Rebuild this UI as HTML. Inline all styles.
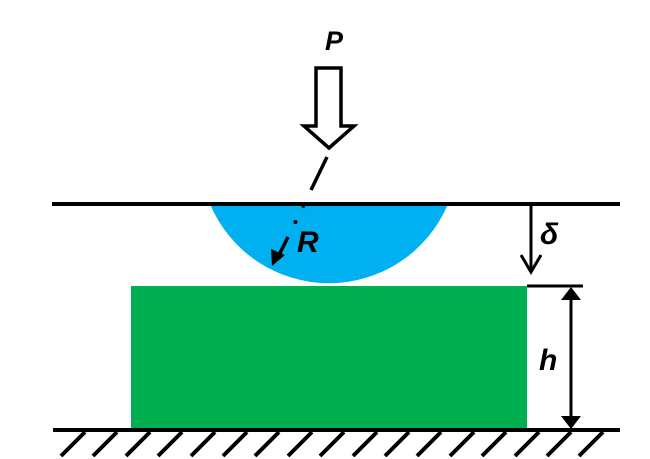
<!DOCTYPE html>
<html>
<head>
<meta charset="utf-8">
<style>
html,body{margin:0;padding:0;background:#fff;}
svg{display:block;}
text{font-family:"Liberation Sans",sans-serif;font-weight:bold;font-style:italic;fill:#000;}
</style>
</head>
<body>
<svg width="650" height="459" viewBox="0 0 650 459" xmlns="http://www.w3.org/2000/svg">
  <!-- blue spherical cap -->
  <path d="M210,204 A129,129 0 0 0 448,204 Z" fill="#00B0F0"/>
  <!-- green block -->
  <rect x="131" y="286" width="396" height="144" fill="#00B050"/>
  <!-- top line -->
  <line x1="52" y1="204" x2="620" y2="204" stroke="#000" stroke-width="4"/>
  <!-- ground line -->
  <line x1="53" y1="430" x2="620" y2="430" stroke="#000" stroke-width="4"/>
  <!-- hatches -->
  <g stroke="#000" stroke-width="4" stroke-linecap="butt">
    <line x1="61" y1="456" x2="85" y2="432"/>
    <line x1="93" y1="456" x2="117" y2="432"/>
    <line x1="126" y1="456" x2="150" y2="432"/>
    <line x1="158" y1="456" x2="182" y2="432"/>
    <line x1="191" y1="456" x2="215" y2="432"/>
    <line x1="223" y1="456" x2="247" y2="432"/>
    <line x1="255" y1="456" x2="279" y2="432"/>
    <line x1="288" y1="456" x2="312" y2="432"/>
    <line x1="320" y1="456" x2="344" y2="432"/>
    <line x1="353" y1="456" x2="377" y2="432"/>
    <line x1="385" y1="456" x2="409" y2="432"/>
    <line x1="417" y1="456" x2="441" y2="432"/>
    <line x1="450" y1="456" x2="474" y2="432"/>
    <line x1="482" y1="456" x2="506" y2="432"/>
    <line x1="515" y1="456" x2="539" y2="432"/>
    <line x1="547" y1="456" x2="571" y2="432"/>
    <line x1="579" y1="456" x2="603" y2="432"/>
  </g>
  <!-- P hollow arrow -->
  <polygon points="316,68 341,68 341,126 354,126 329,148 304,126 316,126" fill="#fff" stroke="#000" stroke-width="3.5" stroke-linejoin="miter"/>
  <text x="334" y="50" font-size="27" text-anchor="middle">P</text>
  <!-- dashed center line -->
  <line x1="327" y1="157" x2="311" y2="190" stroke="#000" stroke-width="3.5"/>
  <line x1="304.5" y1="203" x2="303" y2="208" stroke="#000" stroke-width="3"/>
  <circle cx="295.5" cy="222" r="2" fill="#000"/>
  <!-- R arrow -->
  <line x1="288" y1="237" x2="279" y2="255" stroke="#000" stroke-width="3.5"/>
  <polygon points="272,266 271,249 285,255" fill="#000"/>
  <text x="297" y="252" font-size="30">R</text>
  <!-- delta arrow -->
  <line x1="531" y1="204" x2="531" y2="271" stroke="#000" stroke-width="3"/>
  <polyline points="521,255 531,272 541,255" fill="none" stroke="#000" stroke-width="3"/>
  <text x="540" y="244" font-size="30">δ</text>
  <!-- h dimension -->
  <line x1="527" y1="286" x2="583" y2="286" stroke="#000" stroke-width="3"/>
  <line x1="571" y1="290" x2="571" y2="426" stroke="#000" stroke-width="3"/>
  <polygon points="571,287 561,300 581,300" fill="#000"/>
  <polygon points="571,429 561,416 581,416" fill="#000"/>
  <text x="539" y="370" font-size="30">h</text>
</svg>
</body>
</html>
